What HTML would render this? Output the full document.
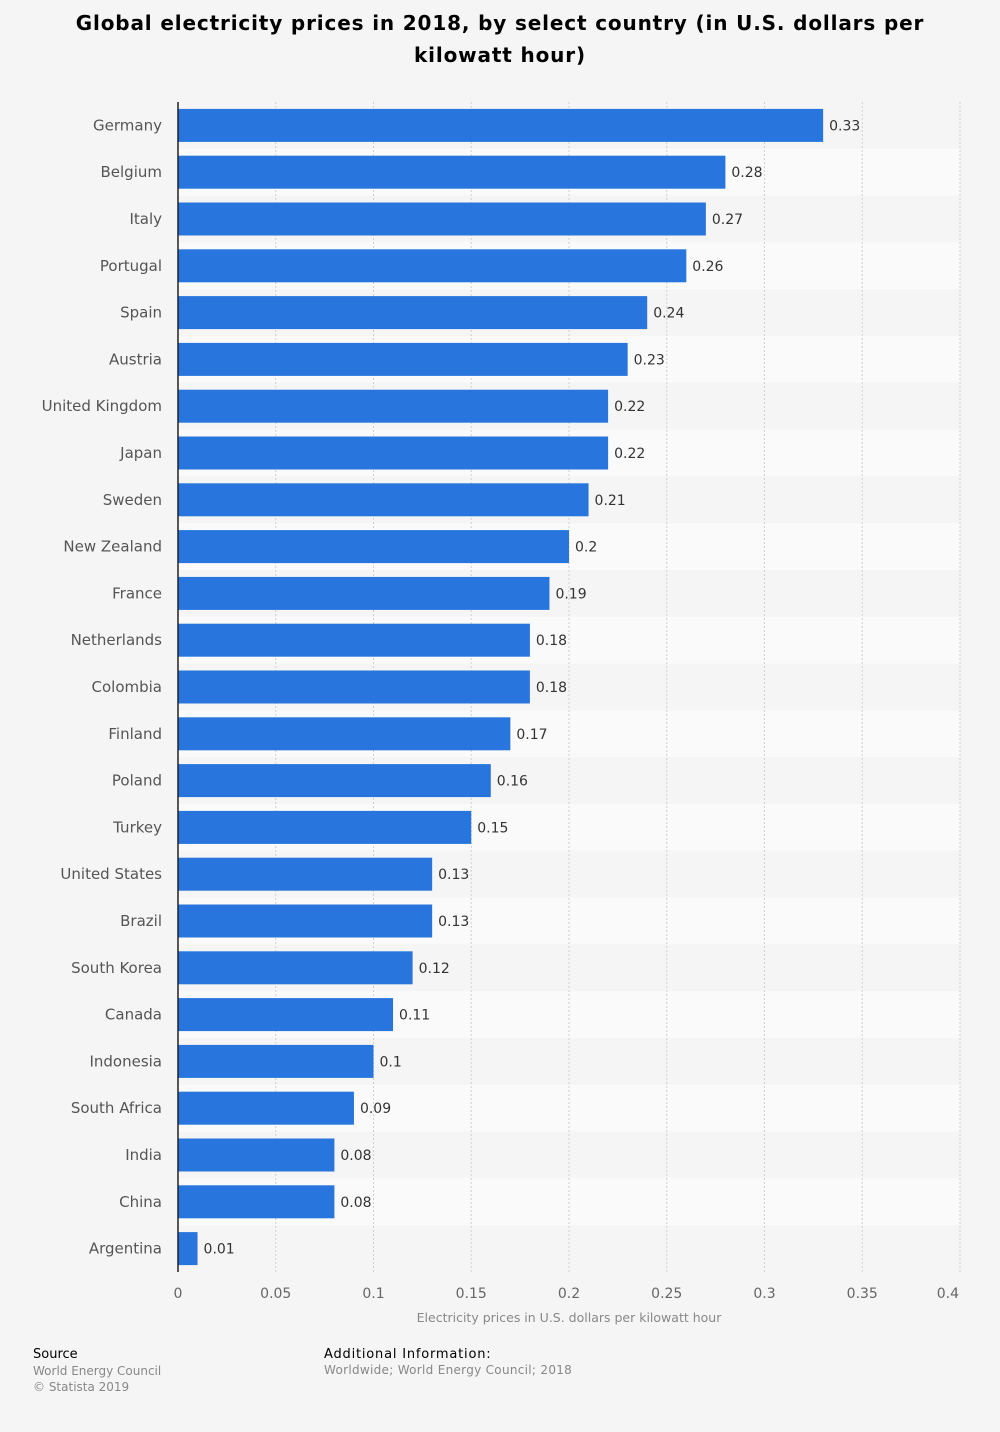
<!DOCTYPE html>
<html><head><meta charset="utf-8">
<style>
body{margin:0;background:#f5f5f5;font-family:"DejaVu Sans","Liberation Sans",sans-serif;}
#wrap{position:relative;width:1000px;height:1432px;background:#f5f5f5;}
#title{position:absolute;left:0;top:7px;width:1000px;text-align:center;font-weight:bold;font-size:20px;line-height:32px;color:#000;letter-spacing:0.85px;}
.ft{position:absolute;font-size:12px;}
</style></head><body>
<div id="wrap">
<div id="title">Global electricity prices in 2018, by select country (in U.S. dollars per<br>kilowatt hour)</div>
<svg id="chart" width="1000" height="1432" style="position:absolute;left:0;top:0"></svg>
<div class="ft" style="left:33px;top:1347px;color:#000;font-size:13px">Source</div>
<div class="ft" style="left:33px;top:1363px;color:#888;font-size:12px;line-height:16px">World Energy Council<br>© Statista 2019</div>
<div class="ft" style="left:324px;top:1347px;color:#000;font-size:13px;letter-spacing:0.8px">Additional Information:</div>
<div class="ft" style="left:324px;top:1363px;color:#888;font-size:12px;letter-spacing:0.3px">Worldwide; World Energy Council; 2018</div>
</div>
<script>
const categories=["Germany","Belgium","Italy","Portugal","Spain","Austria","United Kingdom","Japan","Sweden","New Zealand","France","Netherlands","Colombia","Finland","Poland","Turkey","United States","Brazil","South Korea","Canada","Indonesia","South Africa","India","China","Argentina"];
const values=[0.33,0.28,0.27,0.26,0.24,0.23,0.22,0.22,0.21,0.2,0.19,0.18,0.18,0.17,0.16,0.15,0.13,0.13,0.12,0.11,0.1,0.09,0.08,0.08,0.01];
const ticks=[0,0.05,0.1,0.15,0.2,0.25,0.3,0.35,0.4];
const tickLabels=["0","0.05","0.1","0.15","0.2","0.25","0.3","0.35","0.4"];
const NS="http://www.w3.org/2000/svg";
const svg=document.getElementById('chart');
const X0=178,X1=960,TOP=102,BOT=1272;
const step=(BOT-TOP)/categories.length;
const x=v=>X0+(v/0.4)*(X1-X0);
const yc=i=>TOP+step*(i+0.5);
function mk(t,a){const e=document.createElementNS(NS,t);for(const k in a)e.setAttribute(k,a[k]);svg.appendChild(e);return e;}
categories.forEach((c,i)=>{
  const r=mk('rect',{x:X0,y:TOP+step*i,width:X1-X0,height:step,fill:i%2?'#fafafa':'#f5f5f5'});
  
  
});
ticks.forEach((t,i)=>{
  if(i>0){const l=mk('line',{x1:x(t),x2:x(t),y1:TOP,y2:BOT,stroke:'#cfcfcf','stroke-dasharray':'2,2'});
  
  }
  const last=i===ticks.length-1;
  const tx=mk('text',{x:last?x(t)-1:x(t),y:BOT+26,'text-anchor':last?'end':'middle','font-size':14,fill:'#666'});
  tx.textContent=tickLabels[i];
  
  
});
categories.forEach((c,i)=>{
  const b=mk('rect',{x:X0,y:yc(i)-16.5,width:x(values[i])-X0,height:33,fill:'#2876dd'});
  
  
  const v=mk('text',{x:x(values[i])+6,y:yc(i)+5,'font-size':14,fill:'#333'});
  v.textContent=String(values[i]);
  
  
  const l=mk('text',{x:162,y:yc(i)+5,'text-anchor':'end','font-size':15,fill:'#555'});
  l.textContent=c;
  
  
});
const ax=mk('line',{x1:X0,x2:X0,y1:TOP,y2:BOT,stroke:'#222','stroke-width':1.5});


const at=mk('text',{x:569,y:1322,'text-anchor':'middle','font-size':12.5,fill:'#888'});
at.textContent='Electricity prices in U.S. dollars per kilowatt hour';


</script>
</body></html>
